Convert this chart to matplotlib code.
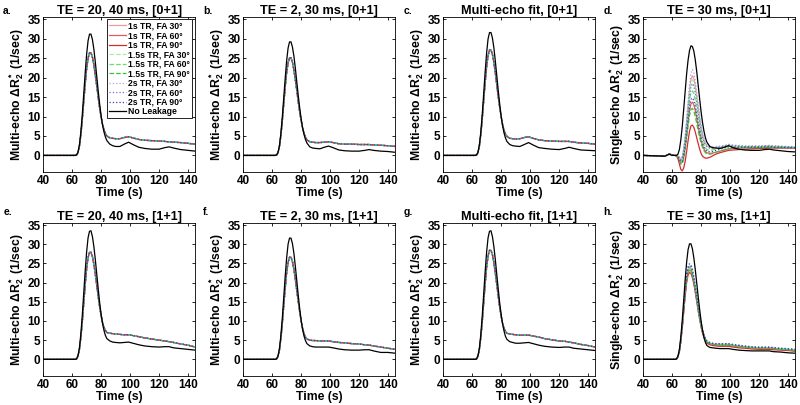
import matplotlib
matplotlib.use("Agg")
import matplotlib.pyplot as plt

plt.rcParams['font.family'] = ['Liberation Sans', 'DejaVu Sans']
plt.rcParams['font.weight'] = 'bold'
plt.rcParams['mathtext.fontset'] = 'custom'
plt.rcParams['mathtext.rm'] = 'Liberation Sans:bold'
plt.rcParams['mathtext.bf'] = 'Liberation Sans:bold'
plt.rcParams['mathtext.it'] = 'Liberation Sans:bold'

# time knots (s)
time = [40, 55, 58, 60, 62, 63, 64, 65, 66, 67, 68, 69, 70, 71, 72, 73, 74, 75, 76, 77, 78, 79,
        80, 81, 82, 83, 84, 86, 88, 90, 93, 96, 99, 102, 106, 110, 115, 120, 124, 127, 130, 135, 140, 145]

series_labels = ['1s TR, FA 30°', '1s TR, FA 60°', '1s TR, FA 90°',
                 '1.5s TR, FA 30°', '1.5s TR, FA 60°', '1.5s TR, FA 90°',
                 '2s TR, FA 30°', '2s TR, FA 60°', '2s TR, FA 90°']
series_colors = ['#f29a9a', '#e25c5c', '#d42c2c',
                 '#a6f0a6', '#6edc6e', '#3cc03c',
                 '#a8a8ec', '#7070dc', '#3c3cc0']
series_styles = ['-', '-', '-', '--', '--', '--', ':', ':', ':']

# ---- multi-echo panels: black = no leakage, leak = all 9 leakage curves (overlapping)
a_black = [0, 0, 0, 0, 0, 0.1, 0.8, 2.6, 6, 10.5, 15.8, 21.2, 26, 29.5, 31.2, 31.2, 29.8, 27.3, 24, 20.3, 16.6, 13.2,
           10.2, 7.8, 6.0, 4.7, 3.8, 2.9, 2.5, 2.3, 2.3, 2.9, 3.4, 2.8, 2.1, 1.8, 1.6, 1.6, 2.0, 2.2, 1.9, 1.5, 1.3, 1.1]
a_leak = [0, 0, 0, 0, 0, 0.1, 0.7, 2.3, 5.2, 9.2, 13.8, 18.3, 22.3, 25.0, 26.4, 26.4, 25.3, 23.3, 20.7, 17.8, 14.9, 12.2,
          9.9, 8.0, 6.6, 5.6, 5.0, 4.5, 4.4, 4.3, 4.3, 4.6, 4.8, 4.5, 4.1, 3.9, 3.8, 3.7, 3.6, 3.5, 3.4, 3.3, 3.1, 2.9]
b_black = [0, 0, 0, 0, 0, 0.1, 0.7, 2.4, 5.6, 9.8, 14.8, 19.8, 24.3, 27.6, 29.2, 29.2, 27.9, 25.6, 22.5, 19.0, 15.5, 12.3,
           9.5, 7.2, 5.4, 4.1, 3.2, 2.2, 1.9, 1.8, 1.7, 2.1, 2.4, 2.0, 1.4, 1.2, 1.1, 1.1, 1.3, 1.5, 1.3, 1.1, 1.0, 0.8]
b_leak = [0, 0, 0, 0, 0, 0.1, 0.6, 2.2, 5.0, 8.8, 13.2, 17.5, 21.3, 23.8, 25.1, 25.1, 24.0, 22.0, 19.5, 16.7, 13.9, 11.3,
          9.0, 7.1, 5.7, 4.7, 4.0, 3.5, 3.4, 3.3, 3.3, 3.4, 3.5, 3.3, 3.0, 2.9, 2.9, 2.8, 2.8, 2.8, 2.7, 2.6, 2.5, 2.3]
c_black = [0, 0, 0, 0, 0, 0.1, 0.8, 2.7, 6.1, 10.7, 16.1, 21.6, 26.4, 30.0, 31.6, 31.6, 30.2, 27.7, 24.3, 20.6, 16.8, 13.3,
           10.2, 7.7, 5.8, 4.5, 3.6, 2.8, 2.5, 2.4, 2.3, 2.8, 3.3, 2.7, 2.0, 1.8, 1.6, 1.5, 1.8, 2.1, 1.8, 1.4, 1.3, 1.2]
c_leak = [0, 0, 0, 0, 0, 0.1, 0.7, 2.4, 5.4, 9.5, 14.2, 18.8, 22.9, 25.7, 27.1, 27.1, 26.0, 23.9, 21.2, 18.2, 15.2, 12.4,
          10.0, 8.0, 6.5, 5.5, 4.9, 4.4, 4.3, 4.2, 4.3, 4.6, 4.8, 4.4, 4.0, 3.8, 3.7, 3.6, 3.6, 3.6, 3.4, 3.2, 3.1, 2.9]
e_black = [0, 0, 0, 0, 0, 0.1, 0.9, 2.9, 6.6, 11.5, 17.2, 23.0, 28.0, 31.7, 33.4, 33.5, 32.0, 29.4, 26.0, 22.2, 18.4, 14.8,
           11.8, 9.3, 7.5, 6.2, 5.4, 4.8, 4.5, 4.4, 4.3, 4.4, 4.5, 4.2, 3.8, 3.5, 3.3, 3.2, 3.3, 3.3, 3.0, 2.8, 2.6, 2.4]
e_leak = [0, 0, 0, 0, 0, 0.1, 0.8, 2.5, 5.6, 9.7, 14.6, 19.4, 23.6, 26.5, 27.9, 27.9, 26.8, 24.8, 22.2, 19.3, 16.4, 13.7,
          11.4, 9.6, 8.3, 7.5, 7.0, 6.8, 6.7, 6.6, 6.5, 6.4, 6.4, 6.2, 5.9, 5.6, 5.3, 5.0, 4.8, 4.6, 4.4, 4.0, 3.7, 3.2]
f_black = [0, 0, 0, 0, 0, 0.1, 0.8, 2.7, 6.1, 10.7, 16.1, 21.6, 26.4, 30.0, 31.6, 31.6, 30.2, 27.7, 24.3, 20.6, 16.8, 13.3,
           10.3, 7.9, 6.1, 4.9, 4.1, 3.5, 3.3, 3.2, 3.2, 3.2, 3.2, 3.0, 2.7, 2.5, 2.4, 2.4, 2.5, 2.5, 2.2, 1.8, 1.8, 1.6]
f_leak = [0, 0, 0, 0, 0, 0.1, 0.7, 2.3, 5.3, 9.2, 13.9, 18.5, 22.5, 25.3, 26.6, 26.6, 25.5, 23.5, 20.9, 18.0, 15.1, 12.4,
          10.0, 8.1, 6.7, 5.8, 5.3, 5.0, 4.9, 4.9, 4.8, 4.8, 4.8, 4.6, 4.4, 4.3, 4.1, 4.0, 3.8, 3.7, 3.5, 3.2, 2.9, 2.6]
g_black = [0, 0, 0, 0, 0, 0.1, 0.9, 2.9, 6.6, 11.5, 17.2, 23.0, 28.0, 31.7, 33.4, 33.5, 32.0, 29.4, 26.0, 22.2, 18.4, 14.8,
           11.8, 9.3, 7.4, 6.0, 5.2, 4.6, 4.4, 4.2, 4.2, 4.3, 4.4, 4.1, 3.7, 3.4, 3.2, 3.1, 3.2, 3.2, 2.9, 2.7, 2.5, 2.3]
g_leak = [0, 0, 0, 0, 0, 0.1, 0.8, 2.6, 5.7, 9.9, 14.9, 19.8, 24.0, 27.0, 28.4, 28.4, 27.3, 25.2, 22.5, 19.5, 16.5, 13.7,
          11.3, 9.4, 8.1, 7.3, 6.8, 6.6, 6.5, 6.4, 6.3, 6.3, 6.3, 6.1, 5.8, 5.4, 5.1, 4.8, 4.7, 4.5, 4.3, 3.9, 3.6, 3.2]

# ---- single-echo panel d, one curve per acquisition
d_black = [0, -0.2, 0.3, 0, 0, 0, 0.3, 1.5, 4, 7.5, 12, 16.5, 21, 24.5, 27, 28.2, 28, 26.8, 24.5, 21.5, 18, 14.5,
           11.2, 8.4, 6.2, 4.5, 3.4, 2.3, 2.0, 1.9, 1.8, 2.1, 2.5, 2.0, 1.6, 1.4, 1.3, 1.3, 1.5, 1.6, 1.4, 1.2, 1.0, 0.9]
d_1s_30 = [0, -0.2, 0.4, 0.1, 0, 0, -0.2, -0.6, -1.0, -0.5, 1.5, 4.5, 8.5, 12.8, 16.8, 19.6, 20.5, 19.8, 17.8, 15.2, 12.3, 9.6,
           7.2, 5.2, 3.8, 2.9, 2.4, 2.0, 1.9, 2.0, 2.1, 2.3, 2.6, 2.4, 2.3, 2.2, 2.2, 2.2, 2.3, 2.4, 2.3, 2.2, 2.1, 2.0]
d_1s_60 = [0, -0.2, 0.4, 0.1, 0, -0.1, -0.5, -1.3, -2.0, -1.8, -0.5, 2.0, 5.2, 8.5, 11.5, 13.3, 13.7, 13.0, 11.5, 9.5, 7.4, 5.5,
           3.8, 2.5, 1.6, 1.0, 0.7, 0.5, 0.6, 0.8, 1.1, 1.4, 1.7, 1.8, 1.9, 2.0, 2.0, 2.0, 2.0, 2.1, 2.0, 2.0, 2.0, 2.0]
d_1s_90 = [0, -0.2, 0.4, 0.1, 0, -0.2, -0.8, -2.2, -3.6, -4.0, -3.2, -1.5, 1.0, 3.8, 6.2, 7.6, 7.8, 7.2, 6.0, 4.5, 3.0, 1.6,
           0.5, -0.2, -0.5, -0.7, -0.7, -0.5, -0.1, 0.3, 0.7, 1.0, 1.3, 1.4, 1.5, 1.6, 1.7, 1.8, 1.8, 1.9, 1.9, 1.9, 1.9, 1.9]
d_15s_30 = [0, -0.2, 0.4, 0.1, 0, 0, -0.2, -0.6, -1.0, -0.6, 1.3, 4.2, 8.0, 12.1, 15.9, 18.6, 19.5, 18.8, 16.9, 14.4, 11.7, 9.2,
            6.9, 5.0, 3.7, 2.9, 2.4, 2.1, 2.0, 2.1, 2.2, 2.4, 2.7, 2.5, 2.4, 2.3, 2.3, 2.3, 2.4, 2.5, 2.4, 2.3, 2.2, 2.1]
d_15s_60 = [0, -0.2, 0.4, 0.1, 0, 0, -0.3, -0.9, -1.5, -1.2, 0.5, 3.4, 7.0, 10.8, 14.2, 16.2, 16.6, 15.9, 14.1, 11.8, 9.4, 7.2,
            5.2, 3.6, 2.6, 1.9, 1.5, 1.3, 1.4, 1.6, 1.8, 2.0, 2.3, 2.2, 2.2, 2.2, 2.2, 2.2, 2.3, 2.3, 2.2, 2.2, 2.1, 2.1]
d_15s_90 = [0, -0.2, 0.4, 0.1, 0, -0.1, -0.5, -1.4, -2.3, -2.1, -0.9, 1.5, 4.5, 7.6, 10.3, 11.8, 12.1, 11.4, 10.0, 8.2, 6.3, 4.6,
            3.1, 2.0, 1.2, 0.7, 0.4, 0.3, 0.5, 0.8, 1.1, 1.4, 1.7, 1.8, 1.9, 2.0, 2.0, 2.0, 2.0, 2.1, 2.0, 2.0, 2.0, 2.0]
d_2s_30 = [0, -0.2, 0.4, 0.1, 0, 0, -0.1, -0.4, -0.7, -0.2, 2.0, 5.3, 9.5, 14.0, 18.2, 21.1, 22.1, 21.3, 19.2, 16.4, 13.3, 10.5,
           7.9, 5.8, 4.3, 3.3, 2.8, 2.4, 2.3, 2.3, 2.4, 2.6, 2.9, 2.7, 2.6, 2.5, 2.5, 2.5, 2.5, 2.6, 2.5, 2.4, 2.3, 2.2]
d_2s_60 = [0, -0.2, 0.4, 0.1, 0, 0, -0.2, -0.7, -1.1, -0.7, 1.1, 3.9, 7.6, 11.6, 15.2, 17.7, 18.5, 17.8, 16.0, 13.6, 11.0, 8.6,
           6.5, 4.7, 3.5, 2.7, 2.2, 1.9, 1.9, 2.0, 2.2, 2.4, 2.7, 2.5, 2.4, 2.3, 2.3, 2.3, 2.4, 2.4, 2.3, 2.3, 2.2, 2.1]
d_2s_90 = [0, -0.2, 0.4, 0.1, 0, -0.1, -0.4, -1.1, -1.7, -1.5, 0.0, 2.6, 5.8, 9.2, 12.4, 14.4, 14.8, 14.1, 12.5, 10.4, 8.2, 6.2,
           4.4, 3.0, 2.1, 1.5, 1.1, 0.9, 1.0, 1.3, 1.6, 1.9, 2.2, 2.1, 2.1, 2.1, 2.1, 2.1, 2.2, 2.2, 2.1, 2.1, 2.0, 2.0]

# ---- single-echo panel h
h_black = [0, 0, 0, 0, 0, 0.1, 0.8, 2.6, 5.9, 10.3, 15.5, 20.8, 25.3, 28.6, 30.1, 30.1, 28.8, 26.4, 23.3, 19.8, 16.3, 13.0,
           10.0, 7.6, 5.7, 4.4, 3.6, 3.1, 3.0, 2.9, 2.8, 2.8, 2.8, 2.6, 2.4, 2.3, 2.2, 2.2, 2.2, 2.2, 2.0, 1.9, 1.7, 1.6]
h_lo = [0, 0, 0, 0, 0, 0.1, 0.6, 2.0, 4.6, 8.2, 12.4, 16.5, 20.0, 22.0, 22.6, 22.4, 21.3, 19.6, 17.4, 15.0, 12.6, 10.4,
        8.4, 6.8, 5.6, 4.7, 4.2, 3.8, 3.6, 3.5, 3.4, 3.4, 3.4, 3.2, 3.0, 2.9, 2.7, 2.6, 2.6, 2.6, 2.5, 2.4, 2.3, 2.1]
h_m1 = [0, 0, 0, 0, 0, 0.1, 0.6, 2.1, 4.8, 8.5, 12.8, 17.0, 20.6, 22.7, 23.3, 23.1, 22.0, 20.2, 18.0, 15.5, 13.1, 10.8,
        8.8, 7.1, 5.9, 5.0, 4.5, 4.1, 3.9, 3.8, 3.7, 3.7, 3.7, 3.5, 3.3, 3.2, 3.0, 2.9, 2.9, 2.9, 2.8, 2.6, 2.5, 2.3]
h_m2 = [0, 0, 0, 0, 0, 0.1, 0.7, 2.1, 4.9, 8.7, 13.1, 17.4, 21.1, 23.3, 23.9, 23.7, 22.5, 20.7, 18.4, 15.9, 13.4, 11.1,
        9.0, 7.3, 6.1, 5.2, 4.6, 4.2, 4.0, 3.9, 3.9, 3.9, 3.9, 3.7, 3.5, 3.3, 3.1, 3.0, 3.0, 3.0, 2.9, 2.7, 2.6, 2.4]
h_m3 = [0, 0, 0, 0, 0, 0.1, 0.7, 2.2, 5.0, 8.9, 13.4, 17.8, 21.5, 23.8, 24.4, 24.2, 23.0, 21.1, 18.8, 16.2, 13.7, 11.3,
        9.2, 7.5, 6.2, 5.3, 4.7, 4.3, 4.1, 4.0, 4.0, 4.0, 4.0, 3.8, 3.6, 3.4, 3.2, 3.1, 3.1, 3.1, 3.0, 2.8, 2.7, 2.5]
h_hi = [0, 0, 0, 0, 0, 0.1, 0.7, 2.2, 5.1, 9.1, 13.7, 18.1, 22.0, 24.3, 24.9, 24.7, 23.5, 21.6, 19.2, 16.6, 14.0, 11.6,
        9.4, 7.7, 6.4, 5.5, 4.9, 4.4, 4.2, 4.1, 4.1, 4.1, 4.1, 3.9, 3.7, 3.5, 3.3, 3.2, 3.2, 3.2, 3.1, 2.9, 2.8, 2.6]

me_ylabel = r'Multi-echo $\Delta$R$_2^*$ (1/sec)'
se_ylabel = r'Single-echo $\Delta$R$_2^*$ (1/sec)'

panels = [
    ('a.', 'TE = 20, 40 ms, [0+1]', me_ylabel, a_black, [a_leak] * 9),
    ('b.', 'TE = 2, 30 ms, [0+1]', me_ylabel, b_black, [b_leak] * 9),
    ('c.', 'Multi-echo fit, [0+1]', me_ylabel, c_black, [c_leak] * 9),
    ('d.', 'TE = 30 ms, [0+1]', se_ylabel, d_black,
     [d_1s_30, d_1s_60, d_1s_90, d_15s_30, d_15s_60, d_15s_90, d_2s_30, d_2s_60, d_2s_90]),
    ('e.', 'TE = 20, 40 ms, [1+1]', me_ylabel, e_black, [e_leak] * 9),
    ('f.', 'TE = 2, 30 ms, [1+1]', me_ylabel, f_black, [f_leak] * 9),
    ('g.', 'Multi-echo fit, [1+1]', me_ylabel, g_black, [g_leak] * 9),
    ('h.', 'TE = 30 ms, [1+1]', se_ylabel, h_black,
     [h_m2, h_m1, h_lo, h_m3, h_m2, h_m1, h_hi, h_hi, h_m3]),
]

fig = plt.figure(figsize=(8, 4.05), dpi=100)
lefts = [0.054, 0.304, 0.554, 0.804]
rows = [(0.575, 0.383), (0.072, 0.378)]
tag_y = [1 - 11 / 405, 1 - 212 / 405]

for i, (tag, title, ylab, black, leaks) in enumerate(panels):
    r, c = divmod(i, 4)
    ax = fig.add_axes([lefts[c], rows[r][0], 0.19, rows[r][1]])
    for vals, lab, col, ls in zip(leaks, series_labels, series_colors, series_styles):
        ax.plot(time, vals, color=col, ls=ls, lw=0.9, label=lab)
    ax.plot(time, black, color='black', lw=0.9, label='No Leakage')
    ax.set_xlim(40, 145)
    ax.set_ylim(-4.3, 35.6)
    ax.set_xticks([40, 60, 80, 100, 120, 140])
    ax.set_yticks([0, 5, 10, 15, 20, 25, 30, 35])
    ax.tick_params(direction='in', top=True, right=True, length=2.5, width=0.6,
                   labelsize=8.5, pad=2)
    for s in ax.spines.values():
        s.set_linewidth(0.6)
    ax.set_title(title, fontsize=9.2, fontweight='bold', pad=2)
    ax.set_xlabel('Time (s)', fontsize=8.8, fontweight='bold', labelpad=0)
    ax.set_ylabel(ylab, fontsize=8.8, fontweight='bold', labelpad=1)
    fig.text(0.004 + c * 0.25, tag_y[r], tag, fontsize=7.5, fontweight='bold',
             ha='left', va='center')
    if i == 0:
        leg = ax.legend(loc='upper right', bbox_to_anchor=(0.98, 0.985), borderaxespad=0,
                        fontsize=6.2, labelspacing=0.06, handlelength=1.9, handletextpad=0.3,
                        borderpad=0.25, fancybox=False, framealpha=1, edgecolor='black')
        leg.get_frame().set_linewidth(0.6)

fig.savefig('out.png', dpi=100)
